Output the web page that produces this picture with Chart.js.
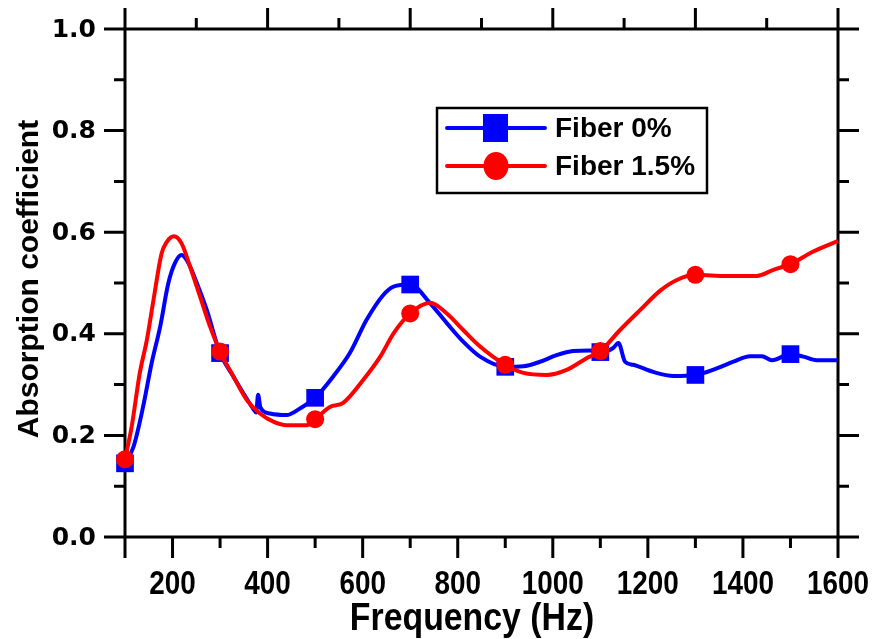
<!DOCTYPE html>
<html>
<head>
<meta charset="utf-8">
<script src="https://cdn.jsdelivr.net/npm/chart.js@4.4.0/dist/chart.umd.min.js"></script>
<style>
  html, body { margin: 0; padding: 0; background: #fff; }
  #wrap { width: 873px; height: 639px; position: relative; }
</style>
</head>
<body>
<div id="wrap"><canvas id="absChart"></canvas></div>
<script>
// Fiber 0% (blue)
const freq0 = [100,118,138,156,174,191,205,219,233,251,272,300,328,349,370,376,380,385,405,440,468,500,538,573,608,643,665,700,742,777,812,847,900,938,973,1008,1043,1078,1100,1127,1138,1152,1169,1211,1254,1300,1345,1380,1415,1440,1461,1500,1527,1555,1600];
const alpha0 = [0.145,0.178,0.256,0.342,0.414,0.499,0.539,0.555,0.540,0.500,0.447,0.362,0.316,0.283,0.252,0.245,0.280,0.255,0.243,0.240,0.253,0.274,0.316,0.362,0.427,0.476,0.493,0.497,0.460,0.421,0.384,0.355,0.335,0.336,0.345,0.358,0.366,0.367,0.364,0.372,0.382,0.345,0.339,0.325,0.317,0.319,0.332,0.345,0.356,0.356,0.348,0.360,0.355,0.348,0.348];

// Fiber 1.5% (red)
const freq15 = [100,114,131,146,160,177,188,203,219,237,258,279,300,328,356,384,412,440,482,500,531,559,601,637,665,700,742,777,812,847,900,938,987,1029,1071,1100,1141,1184,1226,1261,1300,1366,1429,1464,1500,1548,1600];
const alpha15 = [0.153,0.217,0.322,0.388,0.467,0.558,0.581,0.592,0.578,0.532,0.473,0.414,0.365,0.316,0.270,0.243,0.227,0.220,0.220,0.232,0.256,0.264,0.309,0.355,0.401,0.440,0.461,0.440,0.407,0.375,0.339,0.323,0.319,0.329,0.352,0.366,0.407,0.447,0.485,0.506,0.516,0.514,0.514,0.526,0.537,0.562,0.583];

const markerFreqs = [100,300,500,700,900,1100,1300,1500];
const xMajor = [200,400,600,800,1000,1200,1400,1600];
const xMinor = [100,300,500,700,900,1100,1300,1500];
const topMajor = [400,700,1000,1300];
const topMinor = [250,550,850,1150,1450];
const yMajor = [0,0.2,0.4,0.6,0.8,1.0];
const yMinor = [0.1,0.3,0.5,0.7,0.9];

const toPts = (xs, ys) => xs.map((f, i) => ({ x: f, y: ys[i] }));

// condensed text: squeeze horizontally around the anchor point
function narrowText(ctx, text, x, y, sx) {
  ctx.save();
  ctx.translate(x, y);
  ctx.scale(sx, 1);
  ctx.fillText(text, 0, 0);
  ctx.restore();
}

const frame = {
  id: 'frame',
  beforeDatasetsDraw(chart) {
    const { ctx, chartArea: a, scales: { x, y } } = chart;
    const big = 21, small = 11;
    ctx.save();
    ctx.strokeStyle = '#000';
    ctx.lineWidth = 3;
    ctx.beginPath();
    ctx.moveTo(a.left - big, a.bottom); ctx.lineTo(a.right + big, a.bottom);
    ctx.moveTo(a.left - big, a.top); ctx.lineTo(a.right + big, a.top);
    ctx.moveTo(a.left, a.top - big); ctx.lineTo(a.left, a.bottom + big);
    ctx.moveTo(a.right, a.top - big); ctx.lineTo(a.right, a.bottom + big);
    xMajor.forEach(v => { const p = x.getPixelForValue(v); ctx.moveTo(p, a.bottom); ctx.lineTo(p, a.bottom + big); });
    xMinor.forEach(v => { const p = x.getPixelForValue(v); ctx.moveTo(p, a.bottom); ctx.lineTo(p, a.bottom + small); });
    topMajor.forEach(v => { const p = x.getPixelForValue(v); ctx.moveTo(p, a.top); ctx.lineTo(p, a.top - big); });
    topMinor.forEach(v => { const p = x.getPixelForValue(v); ctx.moveTo(p, a.top); ctx.lineTo(p, a.top - small); });
    yMajor.forEach(v => {
      const p = y.getPixelForValue(v);
      ctx.moveTo(a.left, p); ctx.lineTo(a.left - big, p);
      ctx.moveTo(a.right, p); ctx.lineTo(a.right + big, p);
    });
    yMinor.forEach(v => {
      const p = y.getPixelForValue(v);
      ctx.moveTo(a.left, p); ctx.lineTo(a.left - small, p);
      ctx.moveTo(a.right, p); ctx.lineTo(a.right + small, p);
    });
    ctx.stroke();

    // tick labels
    ctx.fillStyle = '#000';
    ctx.font = 'bold 34px "Liberation Sans", Arial, sans-serif';
    ctx.textAlign = 'center';
    ctx.textBaseline = 'middle';
    xMajor.forEach(v => narrowText(ctx, String(v), x.getPixelForValue(v), a.bottom + 48, 0.82));

    ctx.font = 'bold 25px "DejaVu Sans", sans-serif';
    ctx.textAlign = 'right';
    yMajor.forEach(v => ctx.fillText(v.toFixed(1), a.left - 29, y.getPixelForValue(v) + 1));

    // axis titles
    ctx.font = 'bold 38px "Liberation Sans", Arial, sans-serif';
    ctx.textAlign = 'center';
    narrowText(ctx, 'Frequency (Hz)', 472, 620, 0.89);

    ctx.save();
    ctx.translate(30, 279);
    ctx.rotate(-Math.PI / 2);
    ctx.font = 'bold 30px "Liberation Sans", Arial, sans-serif';
    ctx.fillText('Absorption coefficient', 0, 0);
    ctx.restore();
    ctx.restore();
  },
  afterDraw(chart) {
    const { ctx } = chart;
    ctx.save();
    ctx.fillStyle = '#fff';
    ctx.fillRect(437, 108, 270, 85);
    ctx.strokeStyle = '#000';
    ctx.lineWidth = 2.5;
    ctx.strokeRect(437, 108, 270, 85);

    const rows = [
      { y: 128, color: '#0000ff', label: 'Fiber 0%', shape: 'rect' },
      { y: 166, color: '#ff0000', label: 'Fiber 1.5%', shape: 'circle' }
    ];
    rows.forEach(r => {
      ctx.strokeStyle = r.color;
      ctx.fillStyle = r.color;
      ctx.lineWidth = 4;
      ctx.lineCap = 'round';
      ctx.beginPath();
      ctx.moveTo(447, r.y); ctx.lineTo(545, r.y);
      ctx.stroke();
      if (r.shape === 'rect') {
        ctx.fillRect(483, r.y - 14, 25, 28);
      } else {
        ctx.beginPath();
        ctx.ellipse(496, r.y, 12.5, 14, 0, 0, Math.PI * 2);
        ctx.fill();
      }
      ctx.fillStyle = '#000';
      ctx.font = 'bold 28px "Liberation Sans", Arial, sans-serif';
      ctx.textAlign = 'left';
      ctx.textBaseline = 'middle';
      ctx.fillText(r.label, 555, r.y + 1);
    });
    ctx.restore();
  }
};

const markerRadius = (r) => (c) => (c.raw && markerFreqs.includes(c.raw.x) ? r : 0);

new Chart(document.getElementById('absChart').getContext('2d'), {
  type: 'line',
  data: {
    datasets: [
      {
        label: 'Fiber 0%',
        data: toPts(freq0, alpha0),
        borderColor: '#0000ff',
        backgroundColor: '#0000ff',
        borderWidth: 4,
        cubicInterpolationMode: 'monotone',
        pointStyle: 'rect',
        pointRadius: markerRadius(12.5),
        pointBorderWidth: 0,
        pointBackgroundColor: '#0000ff',
        clip: false,
        order: 1
      },
      {
        label: 'Fiber 1.5%',
        data: toPts(freq15, alpha15),
        borderColor: '#ff0000',
        backgroundColor: '#ff0000',
        borderWidth: 4,
        cubicInterpolationMode: 'monotone',
        pointStyle: 'circle',
        pointRadius: markerRadius(9),
        pointBorderWidth: 0,
        pointBackgroundColor: '#ff0000',
        clip: false,
        order: 0
      }
    ]
  },
  options: {
    responsive: true,
    maintainAspectRatio: false,
    animation: false,
    events: [],
    layout: { padding: { left: 125, right: 35, top: 29, bottom: 102 } },
    plugins: { legend: { display: false }, tooltip: { enabled: false } },
    scales: {
      x: { type: 'linear', min: 100, max: 1600, display: false },
      y: { min: 0, max: 1.0, display: false }
    }
  },
  plugins: [frame]
});
</script>
</body>
</html>
